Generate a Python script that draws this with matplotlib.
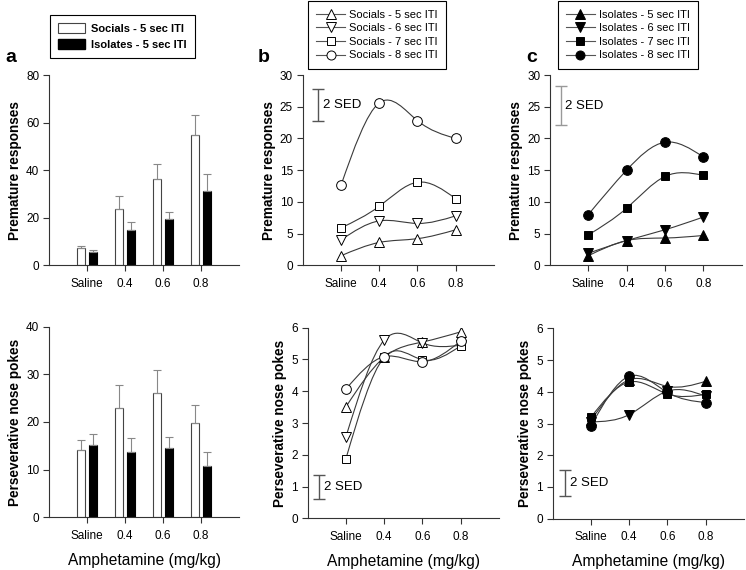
import numpy as np
import matplotlib
matplotlib.use("Agg")
import matplotlib.pyplot as plt
from matplotlib.path import Path
from matplotlib.patches import PathPatch, Patch
from matplotlib.lines import Line2D

plt.rcParams['font.family'] = ['Liberation Sans', 'DejaVu Sans']

# ---- data ----
doses = ['Saline', '0.4', '0.6', '0.8']

# panel a: bar chart, mean and upper error
soc_prem = [7.1, 23.5, 36.1, 54.9]
soc_prem_err = [1.2, 5.8, 6.6, 8.4]
iso_prem = [5.5, 14.8, 19.3, 31.1]
iso_prem_err = [0.8, 3.3, 3.0, 7.1]
soc_pers = [14.1, 22.9, 26.0, 19.7]
soc_pers_err = [2.1, 4.9, 4.9, 3.8]
iso_pers = [15.1, 13.8, 14.5, 10.8]
iso_pers_err = [2.3, 2.8, 2.3, 2.8]

itis = ['5', '6', '7', '8']

# panel b: socials by ITI
soc_iti_prem = [
    [1.5, 3.6, 4.2, 5.6],
    [4.0, 7.0, 6.6, 7.8],
    [5.9, 9.3, 13.1, 10.5],
    [12.6, 25.6, 22.8, 20.0],
]
soc_iti_pers = [
    [3.51, 5.07, 5.55, 5.87],
    [2.57, 5.61, 5.52, 5.45],
    [1.88, 5.07, 4.99, 5.43],
    [4.07, 5.09, 4.93, 5.58],
]

# panel c: isolates by ITI
iso_iti_prem = [
    [1.5, 3.9, 4.3, 4.7],
    [1.9, 3.9, 5.6, 7.6],
    [4.8, 9.0, 14.0, 14.2],
    [8.0, 15.0, 19.4, 17.1],
]
iso_iti_pers = [
    [3.10, 4.38, 4.17, 4.33],
    [3.05, 3.28, 4.02, 3.86],
    [3.20, 4.31, 3.93, 3.92],
    [2.93, 4.49, 3.98, 3.66],
]

# 2 SED bars (low, high)
sed_b_prem = (22.7, 27.8)
sed_c_prem = (22.1, 28.2)
sed_b_pers = (0.61, 1.36)
sed_c_pers = (0.72, 1.52)

markers = ['^', 'v', 's', 'o']
W, H = 746, 570
line_col = '#3a3a3a'


def spline_path(x, y):
    # natural cubic spline through the points, drawn as bezier segments
    x = np.asarray(x, float)
    y = np.asarray(y, float)
    n = len(x)
    h = np.diff(x)
    A = np.zeros((n, n))
    r = np.zeros(n)
    A[0, 0] = A[-1, -1] = 1
    for i in range(1, n - 1):
        A[i, i - 1] = h[i - 1]
        A[i, i] = 2 * (h[i - 1] + h[i])
        A[i, i + 1] = h[i]
        r[i] = 6 * ((y[i + 1] - y[i]) / h[i] - (y[i] - y[i - 1]) / h[i - 1])
    M = np.linalg.solve(A, r)
    verts = [(x[0], y[0])]
    codes = [Path.MOVETO]
    for i in range(n - 1):
        s = (y[i + 1] - y[i]) / h[i]
        d0 = s - h[i] * (2 * M[i] + M[i + 1]) / 6
        d1 = s + h[i] * (M[i] + 2 * M[i + 1]) / 6
        verts += [(x[i] + h[i] / 3, y[i] + d0 * h[i] / 3),
                  (x[i + 1] - h[i] / 3, y[i + 1] - d1 * h[i] / 3),
                  (x[i + 1], y[i + 1])]
        codes += [Path.CURVE4] * 3
    return Path(verts, codes)


def style_axis(ax, ymax, ystep, ylabel):
    ax.set_xlim(-1, 4)
    ax.set_ylim(0, ymax)
    ax.set_yticks(np.arange(0, ymax + 0.001, ystep))
    ax.set_xticks(range(len(doses)))
    ax.set_xticklabels(doses)
    for s in ['top', 'right']:
        ax.spines[s].set_visible(False)
    for s in ['left', 'bottom']:
        ax.spines[s].set_linewidth(0.8)
        ax.spines[s].set_color('#333333')
    ax.tick_params(direction='out', length=4, width=0.8, color='#333333',
                   labelsize=8.5, pad=3)
    ax.tick_params(axis='x', pad=5)
    ax.set_ylabel(ylabel, fontsize=9.8, fontweight='bold', labelpad=3)


def add_axes(left, top, bottom, right):
    return fig.add_axes([left / W, 1 - bottom / H, (right - left) / W, (bottom - top) / H])


def bars(ax, soc, soc_err, iso, iso_err):
    x = np.arange(len(doses))
    off, bw = 0.16, 0.2
    ax.bar(x - off, soc, bw, color='white', edgecolor='#444444', linewidth=0.8,
           yerr=[np.zeros(len(soc)), soc_err], error_kw=dict(ecolor='#888888', elinewidth=0.8, capsize=3, capthick=0.8))
    ax.bar(x + off, iso, bw, color='black', edgecolor='black', linewidth=0.8,
           yerr=[np.zeros(len(iso)), iso_err], error_kw=dict(ecolor='#888888', elinewidth=0.8, capsize=3, capthick=0.8))


def lines(ax, series, filled):
    x = np.arange(len(doses))
    for vals, m in zip(series, markers):
        ax.add_patch(PathPatch(spline_path(x, vals), facecolor='none',
                               edgecolor=line_col, linewidth=0.8, zorder=2))
        ax.plot(x, vals, linestyle='none', marker=m, markersize=7 if m != 's' else 6,
                markerfacecolor='black' if filled else 'white',
                markeredgecolor='black', markeredgewidth=0.7, zorder=3)


def sed(ax, xpos, lo_hi, color):
    lo, hi = lo_hi
    ax.errorbar([xpos], [(lo + hi) / 2], yerr=[[(hi - lo) / 2]], fmt='none',
                ecolor=color, elinewidth=1.0, capsize=4, capthick=1.0)
    ax.text(xpos + 0.12, (lo + hi) / 2, '2 SED', fontsize=9.5, va='center', ha='left')


fig = plt.figure(figsize=(W / 100, H / 100), dpi=100)

# panel a
ax_a1 = add_axes(49, 75, 265.3, 239)
bars(ax_a1, soc_prem, soc_prem_err, iso_prem, iso_prem_err)
style_axis(ax_a1, 80, 20, 'Premature responses')
ax_a2 = add_axes(49, 326.7, 517.3, 239)
bars(ax_a2, soc_pers, soc_pers_err, iso_pers, iso_pers_err)
style_axis(ax_a2, 40, 10, 'Perseverative nose pokes')

# panel b
ax_b1 = add_axes(302.7, 75, 265.3, 494)
lines(ax_b1, soc_iti_prem, False)
sed(ax_b1, -0.6, sed_b_prem, '#555555')
style_axis(ax_b1, 30, 5, 'Premature responses')
ax_b2 = add_axes(307.7, 327.7, 518.3, 499)
lines(ax_b2, soc_iti_pers, False)
sed(ax_b2, -0.7, sed_b_pers, '#555555')
style_axis(ax_b2, 6, 1, 'Perseverative nose pokes')

# panel c
ax_c1 = add_axes(550, 75, 265.3, 741.5)
lines(ax_c1, iso_iti_prem, True)
sed(ax_c1, -0.72, sed_c_prem, '#999999')
style_axis(ax_c1, 30, 5, 'Premature responses')
ax_c2 = add_axes(552.7, 328.3, 518.7, 744)
lines(ax_c2, iso_iti_pers, True)
sed(ax_c2, -0.67, sed_c_pers, '#555555')
style_axis(ax_c2, 6, 1, 'Perseverative nose pokes')

for ax in (ax_a2, ax_b2, ax_c2):
    ax.set_xlabel('Amphetamine (mg/kg)', fontsize=11.2, labelpad=8)

# panel letters
fig.text(5 / W, 1 - 58 / H, 'a', fontsize=14, fontweight='bold', va='center')
fig.text(258 / W, 1 - 58 / H, 'b', fontsize=14, fontweight='bold', va='center')
fig.text(526 / W, 1 - 58 / H, 'c', fontsize=14, fontweight='bold', va='center')

# legends
leg_a = [Patch(facecolor='white', edgecolor='#444444', linewidth=0.8),
         Patch(facecolor='black', edgecolor='black')]
la = fig.legend(leg_a, ['Socials - 5 sec ITI', 'Isolates - 5 sec ITI'],
                loc='upper left', bbox_to_anchor=(50 / W, 1 - 15 / H),
                prop=dict(size=8.0, weight='bold'), fancybox=False,
                edgecolor='black', framealpha=1, handlelength=2.4, handleheight=1.0,
                borderpad=0.75, labelspacing=0.45, handletextpad=0.55, borderaxespad=0)
la.get_frame().set_linewidth(0.8)

for left, filled, grp in [(308, False, 'Socials'), (557.5, True, 'Isolates')]:
    hs = [Line2D([], [], color='#555555', linewidth=0.8, marker=m,
                 markersize=6.5 if m != 's' else 5.5, markerfacecolor='black' if filled else 'white',
                 markeredgecolor='black', markeredgewidth=0.7) for m in markers]
    lg = fig.legend(hs, ['%s - %s sec ITI' % (grp, t) for t in itis],
                    loc='upper left', bbox_to_anchor=(left / W, 1 - 1.5 / H),
                    prop=dict(size=8), fancybox=False, edgecolor='black', framealpha=1,
                    handlelength=2.6, borderpad=0.75, labelspacing=0.32, handletextpad=0.35,
                    borderaxespad=0)
    lg.get_frame().set_linewidth(0.8)

fig.savefig('out.png', dpi=100)
